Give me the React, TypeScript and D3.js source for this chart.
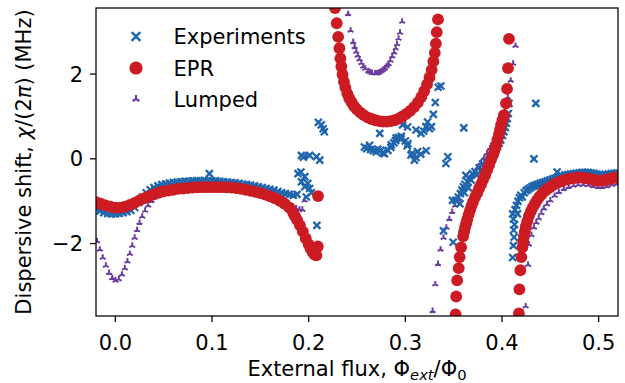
import * as React from 'react';
import * as d3 from 'd3';

// flux (Phi_ext/Phi_0), chi/2pi (MHz)
const eprLeft: [number, number][] = [
  [-0.020, -1.02], [-0.015, -1.06], [-0.010, -1.10], [-0.005, -1.13], [0.000, -1.15], [0.005, -1.15],
  [0.010, -1.13], [0.015, -1.09], [0.020, -1.04], [0.025, -0.98], [0.030, -0.93], [0.035, -0.88],
  [0.040, -0.84], [0.045, -0.80], [0.050, -0.77], [0.055, -0.75], [0.060, -0.73], [0.065, -0.71],
  [0.070, -0.70], [0.075, -0.69], [0.080, -0.68], [0.085, -0.675], [0.090, -0.67], [0.095, -0.67],
  [0.100, -0.67], [0.105, -0.67], [0.110, -0.67], [0.115, -0.675], [0.120, -0.68], [0.125, -0.69],
  [0.130, -0.71], [0.135, -0.73], [0.140, -0.755], [0.145, -0.78], [0.150, -0.81], [0.155, -0.845],
  [0.160, -0.885], [0.165, -0.93], [0.170, -0.99], [0.175, -1.06], [0.180, -1.15], [0.184, -1.28],
  [0.186, -1.36], [0.188, -1.44], [0.191, -1.57], [0.194, -1.72], [0.197, -1.88], [0.200, -2.02],
  [0.202, -2.12], [0.204, -2.20], [0.206, -2.26], [0.208, -2.28], [0.2095, -2.07], [0.2097, -0.88],
];
const eprU: [number, number][] = [
  [0.2273, 3.56], [0.2290, 3.20], [0.2305, 2.88], [0.2318, 2.61], [0.2328, 2.37], [0.2338, 2.18],
  [0.2350, 1.99], [0.2365, 1.82], [0.2380, 1.68], [0.2400, 1.54], [0.2420, 1.43], [0.2445, 1.33],
  [0.2470, 1.24], [0.2500, 1.16], [0.2535, 1.09], [0.2570, 1.03], [0.2610, 0.98], [0.2650, 0.94],
  [0.2690, 0.91], [0.2730, 0.89], [0.2770, 0.88], [0.2810, 0.88], [0.2850, 0.89], [0.2890, 0.91],
  [0.2930, 0.95], [0.2970, 1.00], [0.3010, 1.06], [0.3050, 1.13], [0.3090, 1.22], [0.3130, 1.33],
  [0.3165, 1.46], [0.3195, 1.60], [0.3225, 1.76], [0.3250, 1.92], [0.3272, 2.10], [0.3290, 2.30],
  [0.3305, 2.50], [0.3316, 2.72], [0.3325, 2.99], [0.3338, 3.29],
];
const eprPole1: [number, number][] = [
  [0.3520, -3.67], [0.3526, -3.25], [0.3536, -2.87], [0.3552, -2.58], [0.3562, -2.32], [0.3577, -2.09],
  [0.3598, -1.83], [0.3608, -1.72], [0.3619, -1.61], [0.3630, -1.52], [0.3640, -1.43], [0.3655, -1.32],
  [0.3670, -1.21], [0.3685, -1.11], [0.3700, -1.02], [0.3720, -0.91], [0.3742, -0.81], [0.3763, -0.70],
  [0.3784, -0.60], [0.3805, -0.49], [0.3825, -0.39], [0.3845, -0.27], [0.3866, -0.15], [0.3886, -0.03],
  [0.3907, 0.09], [0.3922, 0.20], [0.3938, 0.32], [0.3953, 0.45], [0.3969, 0.58], [0.3980, 0.69],
  [0.3990, 0.80], [0.4005, 0.92], [0.4020, 1.03], [0.4041, 1.31], [0.4052, 1.65], [0.4062, 2.14],
  [0.4072, 2.83],
];
const eprPole2: [number, number][] = [
  [0.4175, -3.65], [0.4180, -3.08], [0.4190, -2.63], [0.4200, -2.32], [0.4211, -2.09], [0.4220, -1.95],
  [0.4227, -1.83], [0.4237, -1.71], [0.4247, -1.59], [0.4262, -1.47], [0.4278, -1.35], [0.4299, -1.24],
  [0.4320, -1.14], [0.4340, -1.06], [0.4361, -0.98], [0.4386, -0.90], [0.4412, -0.83], [0.4438, -0.77],
  [0.4464, -0.72], [0.4495, -0.67], [0.4526, -0.62], [0.4557, -0.58], [0.4588, -0.55], [0.4624, -0.52],
  [0.4660, -0.49], [0.4696, -0.475], [0.4732, -0.46], [0.4768, -0.45], [0.4804, -0.44], [0.4840, -0.45],
  [0.4876, -0.46], [0.4907, -0.475], [0.4938, -0.49], [0.4969, -0.505], [0.5000, -0.52], [0.5031, -0.515],
  [0.5062, -0.50], [0.5093, -0.485], [0.5124, -0.47], [0.5155, -0.455], [0.5186, -0.44],
];

const expLeft: [number, number][] = [
  [-0.0195, -1.19], [-0.016, -1.23], [-0.012, -1.27], [-0.008, -1.29], [-0.004, -1.30], [0.000, -1.30],
  [0.004, -1.29], [0.008, -1.27], [0.012, -1.25], [0.016, -1.22], [0.020, -1.15], [0.024, -1.03],
  [0.028, -0.90], [0.032, -0.80], [0.036, -0.73], [0.040, -0.68], [0.044, -0.64], [0.048, -0.61],
  [0.052, -0.59], [0.056, -0.57], [0.060, -0.56], [0.064, -0.55], [0.068, -0.54], [0.072, -0.53],
  [0.076, -0.53], [0.080, -0.52], [0.084, -0.52], [0.088, -0.52], [0.092, -0.51], [0.0973, -0.35],
  [0.096, -0.52], [0.100, -0.52], [0.104, -0.52], [0.108, -0.53], [0.112, -0.54], [0.116, -0.55],
  [0.120, -0.56], [0.124, -0.57], [0.128, -0.58], [0.132, -0.60], [0.136, -0.61], [0.140, -0.62],
  [0.144, -0.64], [0.148, -0.66], [0.152, -0.68], [0.156, -0.70], [0.160, -0.72], [0.164, -0.74],
  [0.168, -0.77], [0.172, -0.80], [0.176, -0.82], [0.180, -0.84], [0.184, -0.86], [0.188, -0.84],
];
const expPole1: [number, number][] = [
  [0.1890, -0.35], [0.1920, -0.31], [0.1925, -0.54], [0.1960, -0.42], [0.1960, -0.66], [0.1976, -0.90],
  [0.1990, -0.58], [0.2010, -0.70], [0.2028, -0.80], [0.1925, 0.08], [0.1945, 0.04], [0.2010, 0.08],
  [0.2080, 0.05], [0.2115, -0.03], [0.2085, -1.57], [0.2100, 0.86], [0.2130, 0.80], [0.2150, 0.71],
  [0.2162, 0.64],
];
const expMiddle: [number, number][] = [
  [0.2577, 0.28], [0.2600, 0.24], [0.2630, 0.32], [0.2640, 0.22], [0.2670, 0.19], [0.2698, 0.16],
  [0.2715, 0.23], [0.2735, 0.60], [0.2745, 0.20], [0.2765, 0.14], [0.2784, 0.12], [0.2820, 0.20],
  [0.2850, 0.27], [0.2855, 0.33], [0.2880, 0.38], [0.2900, 0.43], [0.2906, 0.49], [0.2930, 0.50],
  [0.2955, 0.47], [0.2958, 0.53], [0.2972, 0.80], [0.3000, 0.42], [0.3020, 0.31], [0.3026, 0.36],
  [0.3023, 0.75], [0.3058, 0.09], [0.3070, 0.13], [0.3093, -0.03], [0.3110, 0.03], [0.3110, 0.68],
  [0.3127, 0.17], [0.3160, 0.11], [0.3162, 0.60], [0.3190, 0.65], [0.3213, 0.76], [0.3216, 0.19],
  [0.3230, 0.87], [0.3250, 0.71], [0.3270, 0.76], [0.3290, 1.05], [0.3310, 1.33], [0.3340, 1.69],
  [0.3368, 1.72],
];
const expPole2: [number, number][] = [
  [0.3395, -1.70], [0.3495, -1.97], [0.3420, -0.11], [0.3440, 0.05], [0.3605, 0.73], [0.3488, -0.98],
  [0.3522, -0.98], [0.3548, -0.90], [0.3565, -1.06], [0.3570, -0.82], [0.3585, -0.74], [0.3600, -0.66],
  [0.3610, -0.80], [0.3617, -0.60], [0.3626, -0.39], [0.3643, -0.54], [0.3650, -0.68], [0.3660, -0.45],
  [0.3680, -0.50], [0.3694, -0.35], [0.3720, -0.30], [0.3740, -0.38], [0.3763, -0.21], [0.3780, -0.28],
  [0.3800, -0.12], [0.3815, -0.18], [0.3830, -0.06], [0.3850, -0.10], [0.3870, 0.00], [0.3900, 0.06],
  [0.3930, 0.18], [0.3950, 0.28], [0.3970, 0.37], [0.3987, 0.44], [0.4005, 0.55], [0.4020, 0.64],
  [0.4035, 0.74], [0.4045, 0.84], [0.4055, 0.95], [0.4065, 1.07], [0.4072, 1.31],
];
const expRight: [number, number][] = [
  [0.4110, -2.33], [0.4118, -2.05], [0.4125, -1.85], [0.4120, -1.68], [0.4130, -1.55], [0.4118, -1.42],
  [0.4110, -1.30], [0.4135, -1.20], [0.4150, -1.10], [0.4160, -1.30], [0.4165, -1.00], [0.4180, -0.92],
  [0.4195, -0.86], [0.4210, -0.90], [0.4230, -0.80], [0.4250, -0.75], [0.4270, -0.72], [0.4290, -0.69],
  [0.4310, -0.66], [0.4330, -0.64], [0.4350, -0.62], [0.4370, -0.60], [0.4395, -0.58], [0.4420, -0.56],
  [0.4445, -0.54], [0.4470, -0.52], [0.4495, -0.50], [0.4520, -0.48], [0.4545, -0.46], [0.4570, -0.44],
  [0.4595, -0.42], [0.4620, -0.40], [0.4650, -0.38], [0.4680, -0.37], [0.4710, -0.36], [0.4740, -0.35],
  [0.4770, -0.34], [0.4800, -0.33], [0.4830, -0.32], [0.4860, -0.32], [0.4890, -0.32], [0.4920, -0.33],
  [0.4950, -0.34], [0.4980, -0.36], [0.5010, -0.37], [0.5040, -0.38], [0.5070, -0.37], [0.5100, -0.36],
  [0.5130, -0.35], [0.5160, -0.34], [0.5190, -0.33], [0.4330, 0.00], [0.4350, 1.31], [0.4570, -0.31],
];

const lumpedLeft: [number, number][] = [
  [-0.0190, -1.94], [-0.0160, -2.14], [-0.0130, -2.33], [-0.0098, -2.52], [-0.0065, -2.69], [-0.0032, -2.81],
  [0.0002, -2.87], [0.0036, -2.84], [0.0068, -2.73], [0.0098, -2.58], [0.0125, -2.42], [0.0150, -2.24],
  [0.0175, -2.05], [0.0200, -1.86], [0.0225, -1.68], [0.0250, -1.51], [0.0278, -1.36], [0.0308, -1.22],
  [0.0340, -1.10], [0.0375, -0.99], [0.0410, -0.90], [0.0445, -0.83], [0.0480, -0.78], [0.0515, -0.75],
  [0.0550, -0.73], [0.0600, -0.72], [0.0650, -0.71], [0.0700, -0.70], [0.0750, -0.70], [0.0800, -0.70],
  [0.0850, -0.70], [0.0900, -0.70], [0.0950, -0.70], [0.1000, -0.70], [0.1050, -0.70], [0.1100, -0.71],
  [0.1150, -0.71], [0.1200, -0.72], [0.1250, -0.73], [0.1300, -0.74], [0.1350, -0.75], [0.1400, -0.77],
  [0.1450, -0.79], [0.1500, -0.81], [0.1550, -0.83], [0.1600, -0.85], [0.1650, -0.88], [0.1700, -0.92],
  [0.1750, -0.98], [0.1800, -1.06], [0.1835, -1.12], [0.1870, -1.17], [0.1905, -1.20], [0.1935, -1.20],
  [0.1959, -0.98], [0.1976, 0.07],
];
const lumpedU: [number, number][] = [
  [0.2408, 3.42], [0.2434, 3.03], [0.2461, 2.76], [0.2476, 2.64], [0.2492, 2.53], [0.2508, 2.44],
  [0.2525, 2.35], [0.2545, 2.26], [0.2565, 2.18], [0.2585, 2.13], [0.2617, 2.07], [0.2636, 2.05],
  [0.2655, 2.03], [0.2687, 2.02], [0.2704, 2.02], [0.2720, 2.03], [0.2738, 2.05], [0.2756, 2.08],
  [0.2773, 2.11], [0.2790, 2.14], [0.2808, 2.19], [0.2827, 2.24], [0.2846, 2.32], [0.2865, 2.42],
  [0.2884, 2.51], [0.2900, 2.61], [0.2915, 2.71], [0.2930, 2.84], [0.2945, 2.98], [0.2967, 3.24],
];
const lumpedPole1: [number, number][] = [
  [0.3282, -3.59], [0.3310, -2.96], [0.3338, -2.48], [0.3365, -2.14], [0.3395, -1.86], [0.3425, -1.62],
  [0.3455, -1.42], [0.3485, -1.25], [0.3515, -1.10], [0.3545, -0.96], [0.3575, -0.84], [0.3605, -0.72],
  [0.3635, -0.61], [0.3665, -0.50], [0.3695, -0.40], [0.3725, -0.30], [0.3755, -0.19], [0.3785, -0.09],
  [0.3815, 0.02], [0.3845, 0.13], [0.3875, 0.25], [0.3905, 0.38], [0.3930, 0.50], [0.3955, 0.64],
  [0.3980, 0.80], [0.4005, 0.98], [0.4030, 1.15], [0.4060, 1.45], [0.4090, 1.85], [0.4115, 2.25],
  [0.4140, 2.67],
];
const lumpedPole2: [number, number][] = [
  [0.4245, -3.48], [0.4270, -2.50], [0.4278, -2.02], [0.4305, -1.80], [0.4330, -1.62], [0.4355, -1.50],
  [0.4380, -1.40], [0.4408, -1.28], [0.4433, -1.17], [0.4465, -1.07], [0.4500, -0.98], [0.4545, -0.87],
  [0.4588, -0.78], [0.4640, -0.71], [0.4690, -0.66], [0.4740, -0.63], [0.4790, -0.61], [0.4840, -0.61],
  [0.4890, -0.62], [0.4940, -0.64], [0.4990, -0.66], [0.5040, -0.66], [0.5090, -0.64], [0.5140, -0.61],
  [0.5190, -0.59],
];

const experiments = [...expLeft, ...expPole1, ...expMiddle, ...expPole2, ...expRight];
const epr = [...eprLeft, ...eprU, ...eprPole1, ...eprPole2];
const lumped = [...lumpedLeft, ...lumpedU, ...lumpedPole1, ...lumpedPole2];

const xTicks = [0.0, 0.1, 0.2, 0.3, 0.4, 0.5];
const yTicks = [-2, 0, 2];
const legendLabels = ['Experiments', 'EPR', 'Lumped'];

const BLUE = '#1f65ad';
const RED = '#cc1b22';
const PURPLE = '#6a3d9e';
const FONT = 21;

const crossPath = (s: number) => `M${-s},${-s}L${s},${s}M${-s},${s}L${s},${-s}`;
const triPath = (a: number) => {
  const c = a * 0.866, h = a * 0.5;
  return `M0,0L0,${-a}M0,0L${-c},${h}M0,0L${c},${h}`;
};

export default function App() {
  const left = 96, right = 618, top = 8, bottom = 316;
  const x = d3.scaleLinear().domain([-0.02, 0.52]).range([left, right]);
  const y = d3.scaleLinear().domain([-3.71, 3.56]).range([bottom, top]);
  const fx = d3.format('.1f');
  const fy = d3.format('d');

  const legendRows = [36.5, 68, 99];

  return (
    <svg width={625} height={383} style={{position: 'absolute', left: 0, top: 0, background: '#fff'}}
      fontFamily="DejaVu Sans" fontSize={FONT}>
      <defs>
        <clipPath id="plotArea">
          <rect x={left} y={top} width={right - left} height={bottom - top} />
        </clipPath>
      </defs>
      <g clipPath="url(#plotArea)">
        {lumped.map(([a, b], i) => (
          <path key={'l' + i} d={triPath(3.3)} transform={`translate(${x(a)},${y(b)})`}
            stroke={PURPLE} strokeWidth={2} fill="none" />
        ))}
        {experiments.map(([a, b], i) => (
          <path key={'e' + i} d={crossPath(3.5)} transform={`translate(${x(a)},${y(b)})`}
            stroke={BLUE} strokeWidth={2.3} fill="none" />
        ))}
        {epr.map(([a, b], i) => (
          <circle key={'r' + i} cx={x(a)} cy={y(b)} r={5.9} fill={RED} />
        ))}
      </g>

      <rect x={left} y={top} width={right - left} height={bottom - top} fill="none" stroke="#000" strokeWidth={1.25} />

      {xTicks.map(t => (
        <g key={'xt' + t} transform={`translate(${x(t)},${bottom})`}>
          <line y1={0} y2={6} stroke="#000" strokeWidth={1.25} />
          <text y={33.5} textAnchor="middle">{fx(t)}</text>
        </g>
      ))}
      {yTicks.map(t => (
        <g key={'yt' + t} transform={`translate(${left},${y(t)})`}>
          <line x1={0} x2={-6} stroke="#000" strokeWidth={1.25} />
          <text x={-13} dy="0.36em" textAnchor="end">{fy(t)}</text>
        </g>
      ))}

      <text x={(left + right) / 2} y={376} textAnchor="middle">
        External flux, Φ<tspan fontStyle="italic" fontSize={FONT * 0.7} dy={3.5}>ext</tspan>
        <tspan dy={-3.5}>/Φ</tspan><tspan fontSize={FONT * 0.7} dy={3.5}>0</tspan>
      </text>
      <text transform={`translate(31,${(top + bottom) / 2}) rotate(-90)`} textAnchor="middle">
        Dispersive shift, <tspan fontStyle="italic">χ</tspan>/(2<tspan fontStyle="italic">π</tspan>) (MHz)
      </text>

      <g>
        <path d={crossPath(4.3)} transform={`translate(136,${legendRows[0]})`} stroke={BLUE} strokeWidth={2.5} fill="none" />
        <circle cx={136} cy={legendRows[1]} r={6.6} fill={RED} />
        <path d={triPath(4)} transform={`translate(136,${legendRows[2]})`} stroke={PURPLE} strokeWidth={2.2} fill="none" />
        {legendLabels.map((l, i) => (
          <text key={l} x={173.5} y={legendRows[i] + 7.5}>{l}</text>
        ))}
      </g>
    </svg>
  );
}
